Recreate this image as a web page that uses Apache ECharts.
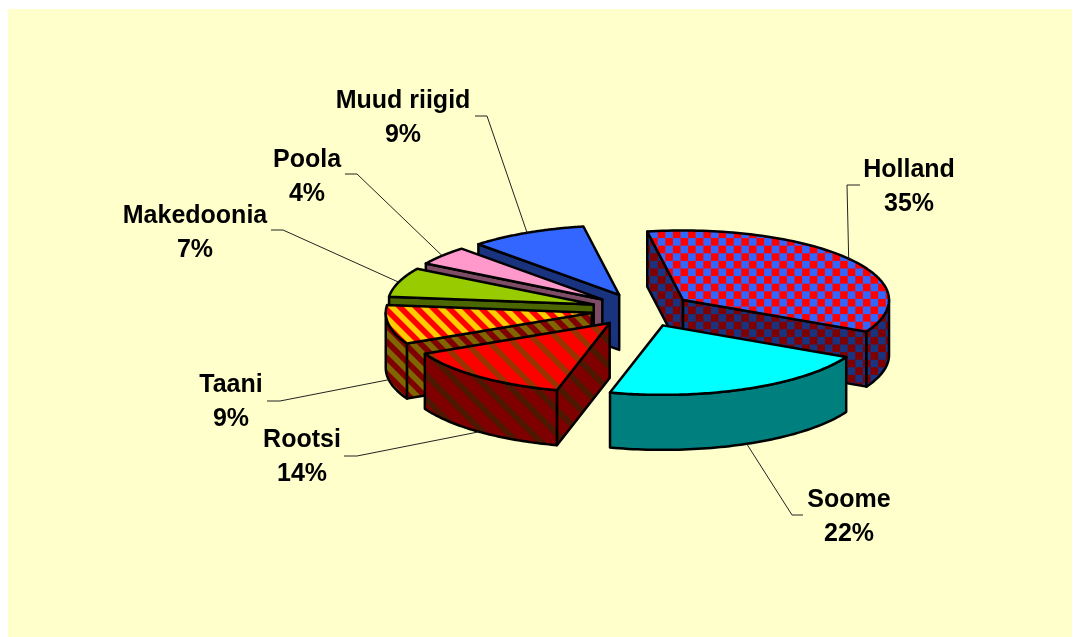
<!DOCTYPE html>
<html><head><meta charset="utf-8">
<style>html,body{margin:0;padding:0;background:#fff}#c{width:1080px;height:637px}</style>
<script src="https://cdn.jsdelivr.net/npm/echarts@6/dist/echarts.min.js"></script>
</head><body><div id="c"></div>
<script>
// data
var categories = ['Holland','Soome','Rootsi','Taani','Makedoonia','Poola','Muud riigid'];
var values = [35.3,21.6,13.6,9.1,6.8,4.4,9.2];
// back-to-front painting order (indexes into categories)
var drawOrder = [0,6,5,4,3,2,1];
// fill styles
var colorA = ['#FF0000','#00FFFF','#FF0000','#FF0000','#99CC00','#FF99CC','#3366FF'];
var colorB = ['#3366FF',null,'#993300','#FFCC00',null,null,null];
var patternKind = ['check',null,'wide','narrow',null,null,null];
// label layout
var labelCentre = [[909,187],[849,517],[302,457],[231,402],[195,233],[307,177],[403,118]];
var leaderStart = [[860,185],[803,515],[344,456],[267,401],[271,230],[345,174],[475,116]];
var leaderElbow = [[847,185],[792,515],[357,456],[280,401],[283,230],[357,174],[487,116]];
// pie geometry
var cx=642, cy=310, rx=206, ry=69.5, depth=55, explode=51, tilt=0.33, startAngle=-10;

var total = values.reduce(function(a,b){return a+b;},0);
var spans = [], acc = startAngle;
values.forEach(function(v){ var s=acc; acc+=v/total*360; spans.push([s,acc]); });
function rad(d){return d*Math.PI/180;}
function half(hex){
  var n=parseInt(hex.slice(1),16);
  var r=(n>>16&255)>>1,g=(n>>8&255)>>1,b=(n&255)>>1;
  return 'rgb('+r+','+g+','+b+')';
}
function checker(a,b){
  var cell=7.6, s=76, ox=4.1, oy=2.5, c=document.createElement('canvas'); c.width=c.height=s;
  var g=c.getContext('2d');
  g.fillStyle=a; g.fillRect(0,0,s,s);
  g.fillStyle=b;
  for(var i=-1;i<12;i++)for(var j=-1;j<12;j++){
    if((i+j)&1) g.fillRect(ox+i*cell,oy+j*cell,cell,cell);
  }
  return {image:c,repeat:'repeat'};
}
function stripes(a,b,s,w,o){
  var c=document.createElement('canvas'); c.width=c.height=s;
  var g=c.getContext('2d');
  g.fillStyle=a; g.fillRect(0,0,s,s);
  g.fillStyle=b;
  for(var k=-2;k<=2;k++){
    var x0=o-w/2+k*s;
    g.beginPath(); g.moveTo(x0,0); g.lineTo(x0+w,0); g.lineTo(x0+w+s,s); g.lineTo(x0+s,s); g.closePath(); g.fill();
  }
  return {image:c,repeat:'repeat'};
}
function fillFor(i,dark){
  var a=dark?half(colorA[i]):colorA[i];
  if(!patternKind[i]) return a;
  var b=dark?half(colorB[i]):colorB[i];
  if(patternKind[i]==='check') return checker(a,b);
  return patternKind[i]==='wide'?stripes(a,b,24,8,3):stripes(a,b,16,8,5);
}
function renderItem(params,api){
  var i=drawOrder[params.dataIndex];
  var s=spans[i][0], e=spans[i][1], mid=(s+e)/2;
  var ax=cx+explode*Math.sin(rad(mid)), ay=cy-explode*tilt*Math.cos(rad(mid));
  function rim(d){return [ax+rx*Math.sin(rad(d)), ay-ry*Math.cos(rad(d))];}
  function down(p){return [p[0],p[1]+depth];}
  var kids=[], line={stroke:'#000',lineWidth:2.5,lineJoin:'round'};
  function poly(pts,fill){
    kids.push({type:'polygon',shape:{points:pts},style:Object.assign({fill:fill},line)});
  }
  var wall=fillFor(i,true), top=fillFor(i,false);
  var apex=[ax,ay];
  // radial faces
  if(Math.sin(rad(s))<0){ var p=rim(s); poly([apex,p,down(p),down(apex)],wall); }
  if(Math.sin(rad(e))>0){ var q=rim(e); poly([apex,q,down(q),down(apex)],wall); }
  // outer wall
  var w0=Math.max(s,90), w1=Math.min(e,270);
  if(w1>w0){
    var upper=[],lower=[];
    for(var k=0;k<=60;k++){ var t=rim(w0+(w1-w0)*k/60); upper.push(t); lower.unshift(down(t)); }
    poly(upper.concat(lower),wall);
  }
  // top face
  var pts=[apex];
  for(var m=0;m<=90;m++) pts.push(rim(s+(e-s)*m/90));
  poly(pts,top);
  // leader
  var end=rim(mid); if(Math.cos(rad(mid))<0) end=down(end);
  kids.push({type:'polyline',z2:50,shape:{points:[leaderStart[i],leaderElbow[i],end]},
    style:{fill:null,stroke:'#222',lineWidth:1}});
  // label
  kids.push({type:'text',z2:60,style:{
    text:categories[i]+'\n'+Math.round(api.value(0)/total*100)+'%',
    x:labelCentre[i][0],y:labelCentre[i][1],
    font:'bold 25px "Liberation Sans", Arial, sans-serif',fill:'#000',
    align:'center',verticalAlign:'middle',lineHeight:33.5}});
  return {type:'group',children:kids};
}
var chart=echarts.init(document.getElementById('c'),null,{renderer:'canvas'});
chart.setOption({
  animation:false,
  backgroundColor:'#FFFFFF',
  graphic:[{type:'rect',z:-1,silent:true,shape:{x:8,y:9,width:1064,height:628},style:{fill:'#FFFFCC'}}],
  series:[{type:'custom',coordinateSystem:'none',silent:true,clip:false,
    data:drawOrder.map(function(i){return {name:categories[i],value:[values[i]]};}),
    renderItem:renderItem}]
});
</script></body></html>
